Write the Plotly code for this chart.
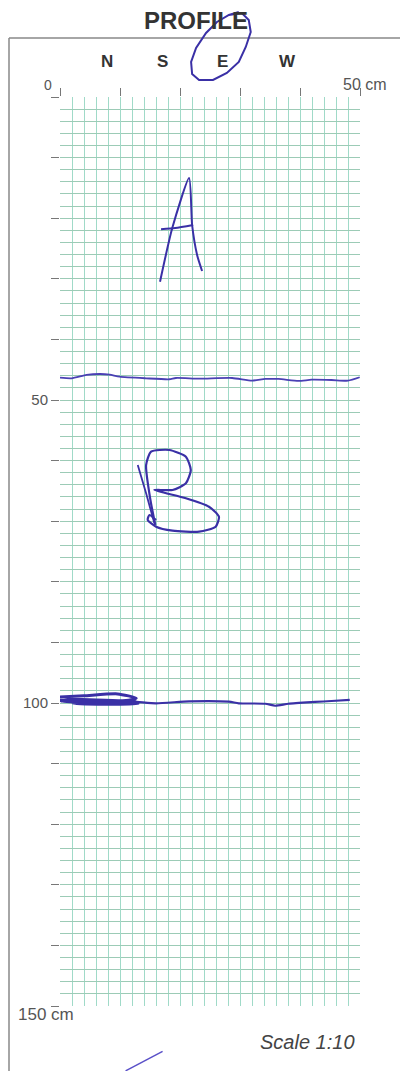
import plotly.graph_objects as go

# ---------------- data (cm; depth positive downward) ----------------
directions = ["N", "S", "E", "W"]
direction_x = [7.8, 17.0, 27.0, 37.9]          # cm across the profile
x_tick_values = [0, 10, 20, 30, 40, 50]
depth_tick_values = list(range(0, 151, 10))
depth_tick_labels = ["50" if v == 50 else "100" if v == 100 else "" for v in depth_tick_values]

# horizon boundary A/B
boundary1_x = [0.0, 1.94, 4.42, 6.62, 8.28, 9.93, 14.35, 18.21, 19.32, 23.18, 28.69,
               32.0, 34.22, 36.42, 39.74, 41.94, 45.25, 48.01, 49.95]
boundary1_y = [46.32, 46.42, 45.87, 45.71, 45.82, 46.15, 46.42, 46.58, 46.37, 46.48, 46.37,
               46.81, 46.53, 46.53, 46.86, 46.65, 46.70, 46.81, 46.25]

# horizon boundary B/C
boundary2_x = [0.0, 12.14, 16.01, 21.52, 28.15, 29.80, 34.22, 35.87, 38.08, 42.5, 45.25, 48.29]
boundary2_y = [99.5, 99.78, 100.05, 99.72, 99.78, 100.05, 100.12, 100.45, 100.12, 99.83, 99.67, 99.5]
scribble_x = [0.0, 4.0, 9.6, 12.7, 11.0, 2.0, 0.0, 5.0, 12.5, 13.0, 8.0, 2.2, 3.0, 9.0, 12.9]
scribble_y = [99.0, 98.8, 98.5, 99.2, 99.6, 99.4, 99.7, 99.9, 99.8, 100.1, 100.2, 100.1, 99.9, 99.7, 99.9]

# handwritten "A"
a_stroke_x = [16.67, 18.71, 21.52, 22.02, 22.85, 23.68]
a_stroke_y = [30.48, 21.62, 13.37, 21.12, 26.07, 28.71]
a_bar_x = [16.84, 19.21, 22.19]
a_bar_y = [21.83, 21.62, 21.12]

# handwritten "B"
b_stem_x = [12.96, 14.35, 15.73]
b_stem_y = [60.73, 65.40, 70.35]
b_body_x = [15.89, 15.07, 14.35, 15.18, 18.21, 20.98, 21.80, 20.98, 18.76, 15.73, 20.98, 24.83,
            26.49, 25.94, 23.18, 18.76, 16.01, 14.62, 14.90, 16.01]
b_body_y = [70.63, 66.50, 60.73, 58.53, 58.25, 59.36, 61.55, 63.75, 64.85, 64.85, 66.22, 67.61,
            69.26, 70.91, 71.73, 71.57, 70.91, 69.80, 68.98, 69.80]

# ink outside the grid (same cm units, negative = above the sheet top)
circle_x = [28.15, 30.30, 31.46, 31.79, 30.96, 29.80, 27.81, 25.50, 23.18, 22.02, 21.85,
            22.68, 24.34, 26.16, 28.15, 29.80]
circle_y = [-13.53, -13.86, -12.71, -10.73, -8.25, -5.78, -3.96, -2.81, -2.81, -3.80, -5.78,
            -8.09, -10.56, -12.38, -13.53, -14.03]
tail_x = [10.93, 17.10]
tail_y = [160.7, 157.5]

X_MAX, Y_MAX = 50, 150
INK = "#3a30a6"


def to_paper(xs, ys):
    return [x / X_MAX for x in xs], [(Y_MAX - y) / Y_MAX for y in ys]


def path_from(xs, ys):
    px, py = to_paper(xs, ys)
    return "M " + " L ".join(f"{a:.4f},{b:.4f}" for a, b in zip(px, py))


fig = go.Figure()

def ink(xs, ys, w=2.0, color=INK):
    fig.add_trace(go.Scatter(x=xs, y=ys, mode="lines",
                             line=dict(color=color, width=w, shape="spline", smoothing=0.6),
                             hoverinfo="skip", showlegend=False))

ink(boundary1_x, boundary1_y, 1.8, "#4a40b4")
ink(boundary2_x, boundary2_y, 2.2)
ink(scribble_x, scribble_y, 3.0)
ink(a_stroke_x, a_stroke_y, 2.0)
ink(a_bar_x, a_bar_y, 2.0)
ink(b_stem_x, b_stem_y, 1.8)
ink(b_body_x, b_body_y, 2.2)

grid_h = "#9ccbb6"
grid_v = "#a0dac8"

fig.update_xaxes(range=[0, X_MAX], side="top", tickvals=x_tick_values, showticklabels=False,
                 ticks="outside", ticklen=8, tickcolor="#777", tickwidth=1,
                 showgrid=True, gridcolor=grid_v, gridwidth=1,
                 minor=dict(dtick=2, showgrid=True, gridcolor=grid_v, gridwidth=1),
                 zeroline=False, showline=False, fixedrange=True)
fig.update_yaxes(range=[Y_MAX, 0], tickvals=depth_tick_values, ticktext=depth_tick_labels,
                 ticks="outside", ticklen=8, tickcolor="#777", tickwidth=1,
                 tickfont=dict(family="Liberation Sans, Arial", size=15, color="#555"),
                 showgrid=True, gridcolor=grid_h, gridwidth=1,
                 minor=dict(dtick=2, showgrid=True, gridcolor=grid_h, gridwidth=1),
                 zeroline=False, showline=False, fixedrange=True)

# sheet frame
fig.add_shape(type="line", xref="paper", yref="paper", x0=-0.17, x1=-0.17, y0=1.065, y1=-0.09,
              line=dict(color="#888", width=1.5))
fig.add_shape(type="line", xref="paper", yref="paper", x0=-0.17, x1=1.2, y0=1.065, y1=1.065,
              line=dict(color="#888", width=1.5))

# ink outside the grid
fig.add_shape(type="path", xref="paper", yref="paper", path=path_from(circle_x, circle_y),
              line=dict(color=INK, width=2))
fig.add_shape(type="path", xref="paper", yref="paper", path=path_from(tail_x, tail_y),
              line=dict(color="#5a50c8", width=1.5))

ann_font = dict(family="Liberation Sans, Arial", color="#555")
fig.add_annotation(text="<b>PROFILE</b>", xref="paper", yref="paper", x=0.4526, y=1.0847,
                   yanchor="middle", showarrow=False,
                   font=dict(family="Liberation Sans, Arial", size=24, color="#333"))
for d, xv in zip(directions, direction_x):
    fig.add_annotation(text=f"<b>{d}</b>", x=xv, xref="x", yref="paper", y=1.039,
                       yanchor="middle", showarrow=False,
                       font=dict(family="Liberation Sans, Arial", size=17, color="#333"))
fig.add_annotation(text="0", x=0, y=0, xref="x", yref="y", xshift=-12, yshift=12,
                   showarrow=False, font=dict(size=14, **ann_font))
fig.add_annotation(text="50 cm", x=50, y=0, xref="x", yref="y", xshift=5, yshift=13,
                   showarrow=False, font=dict(size=16, **ann_font))
fig.add_annotation(text="150 cm", x=0, y=150, xref="x", yref="y", xanchor="left", xshift=-44,
                   yshift=-8, showarrow=False, font=dict(size=17, **ann_font))
fig.add_annotation(text="<i>Scale 1:10</i>", x=41.2, y=150, xref="x", yref="y", yshift=-36,
                   showarrow=False, font=dict(family="Liberation Sans, Arial", size=20, color="#444"))

# the page body adds an 8 px offset, so margins are set 8 px smaller
fig.update_layout(width=408, height=1071, autosize=False,
                  margin=dict(l=52, r=56, t=89, b=73),
                  paper_bgcolor="white", plot_bgcolor="white", showlegend=False)

fig.write_html("out.html")
